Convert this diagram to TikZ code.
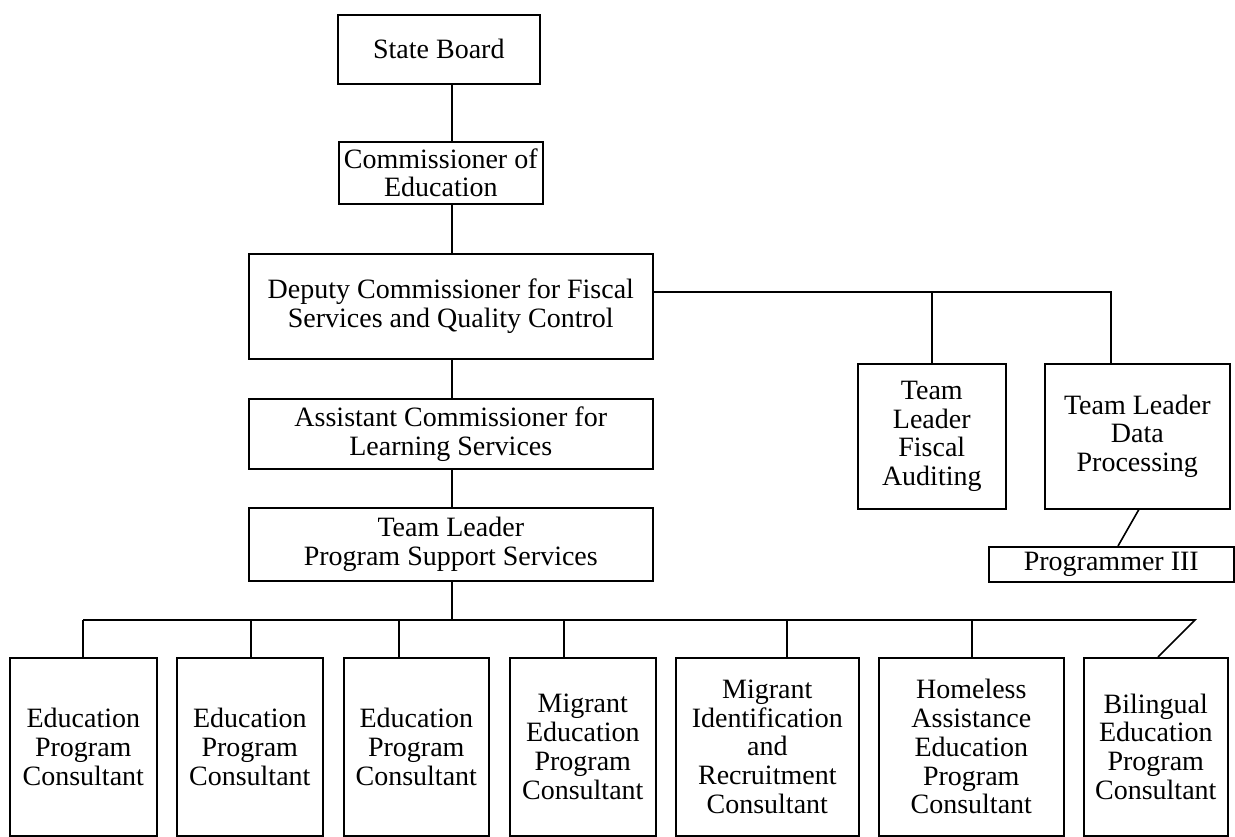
\documentclass[tikz,border=0pt]{standalone}
\usepackage{fontspec}
\setmainfont{Liberation Serif}
\begin{document}
\begin{tikzpicture}[x=1pt,y=-1pt,line width=1.6pt,
  box/.style={draw, rectangle, inner sep=0pt, align=center, anchor=north west,
    font=\fontsize{28}{28.8}\selectfont},
  conn/.style={draw, line width=1.6pt}]
\useasboundingbox (0,0) rectangle (1235,837);
% upper chain
\node[box, minimum width=202pt, minimum height=69pt] (sb) at (337,14) {State Board};
\node[box, minimum width=204pt, minimum height=62pt] (com) at (338,141) {Commissioner of\\Education};
\node[box, minimum width=404pt, minimum height=105pt] (dep) at (248,253) {Deputy Commissioner for Fiscal\\Services and Quality Control};
\node[box, minimum width=404pt, minimum height=70pt] (asst) at (248,398) {Assistant Commissioner for\\Learning Services};
\node[box, minimum width=404pt, minimum height=73pt] (tlp) at (248,507) {Team Leader\\Program Support Services};
% right branch
\node[box, minimum width=148pt, minimum height=145pt] (fis) at (857,363) {Team\\Leader\\Fiscal\\Auditing};
\node[box, minimum width=185pt, minimum height=145pt] (dp) at (1044,363) {Team Leader\\Data\\Processing};
\node[box, minimum width=245pt, minimum height=35pt] (prog) at (988,546) {Programmer III};
% bottom row
\node[box, minimum width=147pt, minimum height=178pt] (b1) at (9,657) {Education\\Program\\Consultant};
\node[box, minimum width=146pt, minimum height=178pt] (b2) at (176,657) {Education\\Program\\Consultant};
\node[box, minimum width=145pt, minimum height=178pt] (b3) at (343,657) {Education\\Program\\Consultant};
\node[box, minimum width=146pt, minimum height=178pt] (b4) at (509,657) {Migrant\\Education\\Program\\Consultant};
\node[box, minimum width=183pt, minimum height=178pt] (b5) at (675,657) {Migrant\\Identification\\and\\Recruitment\\Consultant};
\node[box, minimum width=185pt, minimum height=178pt] (b6) at (878,657) {Homeless\\Assistance\\Education\\Program\\Consultant};
\node[box, minimum width=144pt, minimum height=178pt] (b7) at (1083,657) {Bilingual\\Education\\Program\\Consultant};
% coordinates
\coordinate (spine) at (452,0);
\coordinate (fj) at (932,292);
\coordinate (dj) at (1111,292);
\coordinate (pt) at (1118,546);
\coordinate (j1) at (83,620);
\coordinate (j2) at (251,620);
\coordinate (j3) at (399,620);
\coordinate (j4) at (564,620);
\coordinate (j5) at (787,620);
\coordinate (j6) at (972,620);
\coordinate (jr) at (1195,620);
\coordinate (b7t) at (1158,657);
% connectors
\draw[conn] (sb.south -| spine) -- (com.north -| spine);
\draw[conn] (com.south -| spine) -- (dep.north -| spine);
\draw[conn] (dep.south -| spine) -- (asst.north -| spine);
\draw[conn] (asst.south -| spine) -- (tlp.north -| spine);
\draw[conn] (tlp.south -| spine) -- (spine |- j1);
\draw[conn] (dep.east |- fj) -- (dj) -- (dj |- dp.north);
\draw[conn] (fj) -- (fj |- fis.north);
\draw[conn] ([xshift=1.5pt]dp.south) -- (pt);
\draw[conn] (j1) -- (jr) -- (b7t);
\draw[conn] (j1) -- (j1 |- b1.north);
\draw[conn] (j2) -- (j2 |- b2.north);
\draw[conn] (j3) -- (j3 |- b3.north);
\draw[conn] (j4) -- (j4 |- b4.north);
\draw[conn] (j5) -- (j5 |- b5.north);
\draw[conn] (j6) -- (j6 |- b6.north);
\end{tikzpicture}
\end{document}
